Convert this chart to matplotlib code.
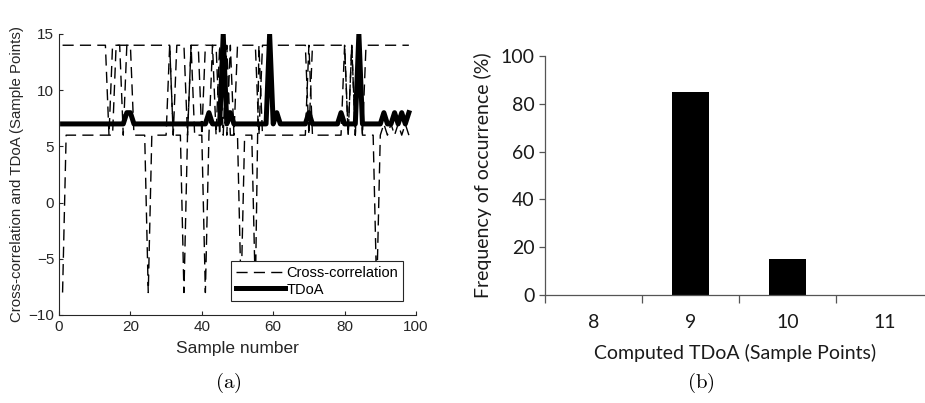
import numpy as np
import matplotlib
matplotlib.use('Agg')
from matplotlib import pyplot as plt

plt.rcParams['mathtext.fontset'] = 'cm'
plt.rcParams['font.family'] = ['Liberation Sans', 'DejaVu Sans']

# --- (a) per-sample lags ---
samples = np.arange(1, 99)

tdoa = [7] * 98
for s, v in [(19, 8), (20, 8), (42, 8), (46, 15), (48, 8), (59, 15), (61, 8), (70, 8),
             (79, 8), (84, 15), (91, 8), (94, 8), (96, 8), (98, 8)]:
    tdoa[s - 1] = v

cc_upper = [14] * 98
for s in [14, 18, 32, 36, 40, 45, 47, 49, 56, 70, 81, 83, 85]:
    cc_upper[s - 1] = 6

cc_lower = [6] * 98
for s in [16, 17, 18, 19, 20, 31, 37, 43, 45, 47, 56, 70, 80, 82, 84]:
    cc_lower[s - 1] = 14
for s in [1, 25, 35, 41, 51, 55, 89]:
    cc_lower[s - 1] = -8
for s in [91, 93, 95, 97]:
    cc_lower[s - 1] = 7

# --- (b) histogram of computed TDoA ---
tdoa_bins = ['8', '9', '10', '11']
freq_pct = [0, 85, 15, 0]

fig = plt.figure(figsize=(9.25, 4.03), dpi=100)
W, H = 925, 403

# ---------- left panel ----------
ax1 = fig.add_axes([59 / W, (H - 315) / H, (416 - 59) / W, (315 - 34) / H])
dash = (0, (8, 4.5))
ax1.plot(samples, cc_upper, color='black', lw=1.0, linestyle=dash, label='Cross-correlation')
ax1.plot(samples, cc_lower, color='black', lw=1.0, linestyle=dash)
ax1.plot(samples, tdoa, color='black', lw=3.6, label='TDoA')
ax1.set_xlim(0, 100)
ax1.set_ylim(-10, 15)
ax1.set_xticks(range(0, 101, 20))
ax1.set_yticks(range(-10, 16, 5))
for sp in ['top', 'right']:
    ax1.spines[sp].set_visible(False)
for sp in ['left', 'bottom']:
    ax1.spines[sp].set_color('#262626')
    ax1.spines[sp].set_linewidth(0.8)
ax1.tick_params(direction='in', length=3, width=0.8, color='#262626', labelsize=11,
                labelcolor='#262626')
ax1.set_xlabel('Sample number', fontsize=12.5, color='#262626', labelpad=5)
ax1.set_ylabel('Cross-correlation and TDoA (Sample Points)', fontsize=10.8,
               color='#262626', labelpad=3)
leg = ax1.legend(loc='lower right', bbox_to_anchor=(0.963, 0.05), fancybox=False,
                 edgecolor='#262626', framealpha=1, fontsize=10.5,
                 handlelength=3.4, handletextpad=0.1, borderpad=0.3, labelspacing=0.2,
                 borderaxespad=0)
leg.get_frame().set_linewidth(0.8)

# ---------- right panel ----------
ax2 = fig.add_axes([545 / W, (H - 295) / H, (925 - 545) / W, (295 - 56) / H])
pos = np.arange(len(tdoa_bins))
ax2.bar(pos, freq_pct, width=0.39, color='black')
ax2.set_xlim(-0.5, -0.5 + (925 - 545) / 97)
ax2.set_ylim(0, 100)
ax2.set_yticks(range(0, 101, 20))
ax2.set_xticks([-0.5, 0.5, 1.5, 2.5])
ax2.set_xticklabels([])
ax2.set_xticks(pos, minor=True)
ax2.set_xticklabels(tdoa_bins, minor=True)
for sp in ['top', 'right']:
    ax2.spines[sp].set_visible(False)
for sp in ['left', 'bottom']:
    ax2.spines[sp].set_color('#555555')
    ax2.spines[sp].set_linewidth(0.9)
ax2.tick_params(axis='x', which='major', direction='out', length=5.5, width=0.9, color='#555555')
ax2.tick_params(axis='x', which='minor', length=0, pad=14)
ax2.tick_params(axis='y', direction='out', length=4, width=0.9, color='#555555')
ax2.tick_params(which='both', labelsize=14, labelcolor='#1a1a1a')
for lab in ax2.get_xticklabels(minor=True) + ax2.get_yticklabels():
    lab.set_family('Lato')
ax2.set_xlabel('Computed TDoA (Sample Points)', family='Lato', fontsize=14,
               color='#1a1a1a', labelpad=9)
ax2.set_ylabel('Frequency of occurrence (%)', family='Lato', fontsize=14,
               color='#1a1a1a', labelpad=6)

# captions
fig.text(228 / W, 1 - 383 / H, r'$\mathrm{(a)}$', ha='center', va='center', fontsize=15)
fig.text(701 / W, 1 - 383 / H, r'$\mathrm{(b)}$', ha='center', va='center', fontsize=15)

fig.savefig('out.png', dpi=100)
